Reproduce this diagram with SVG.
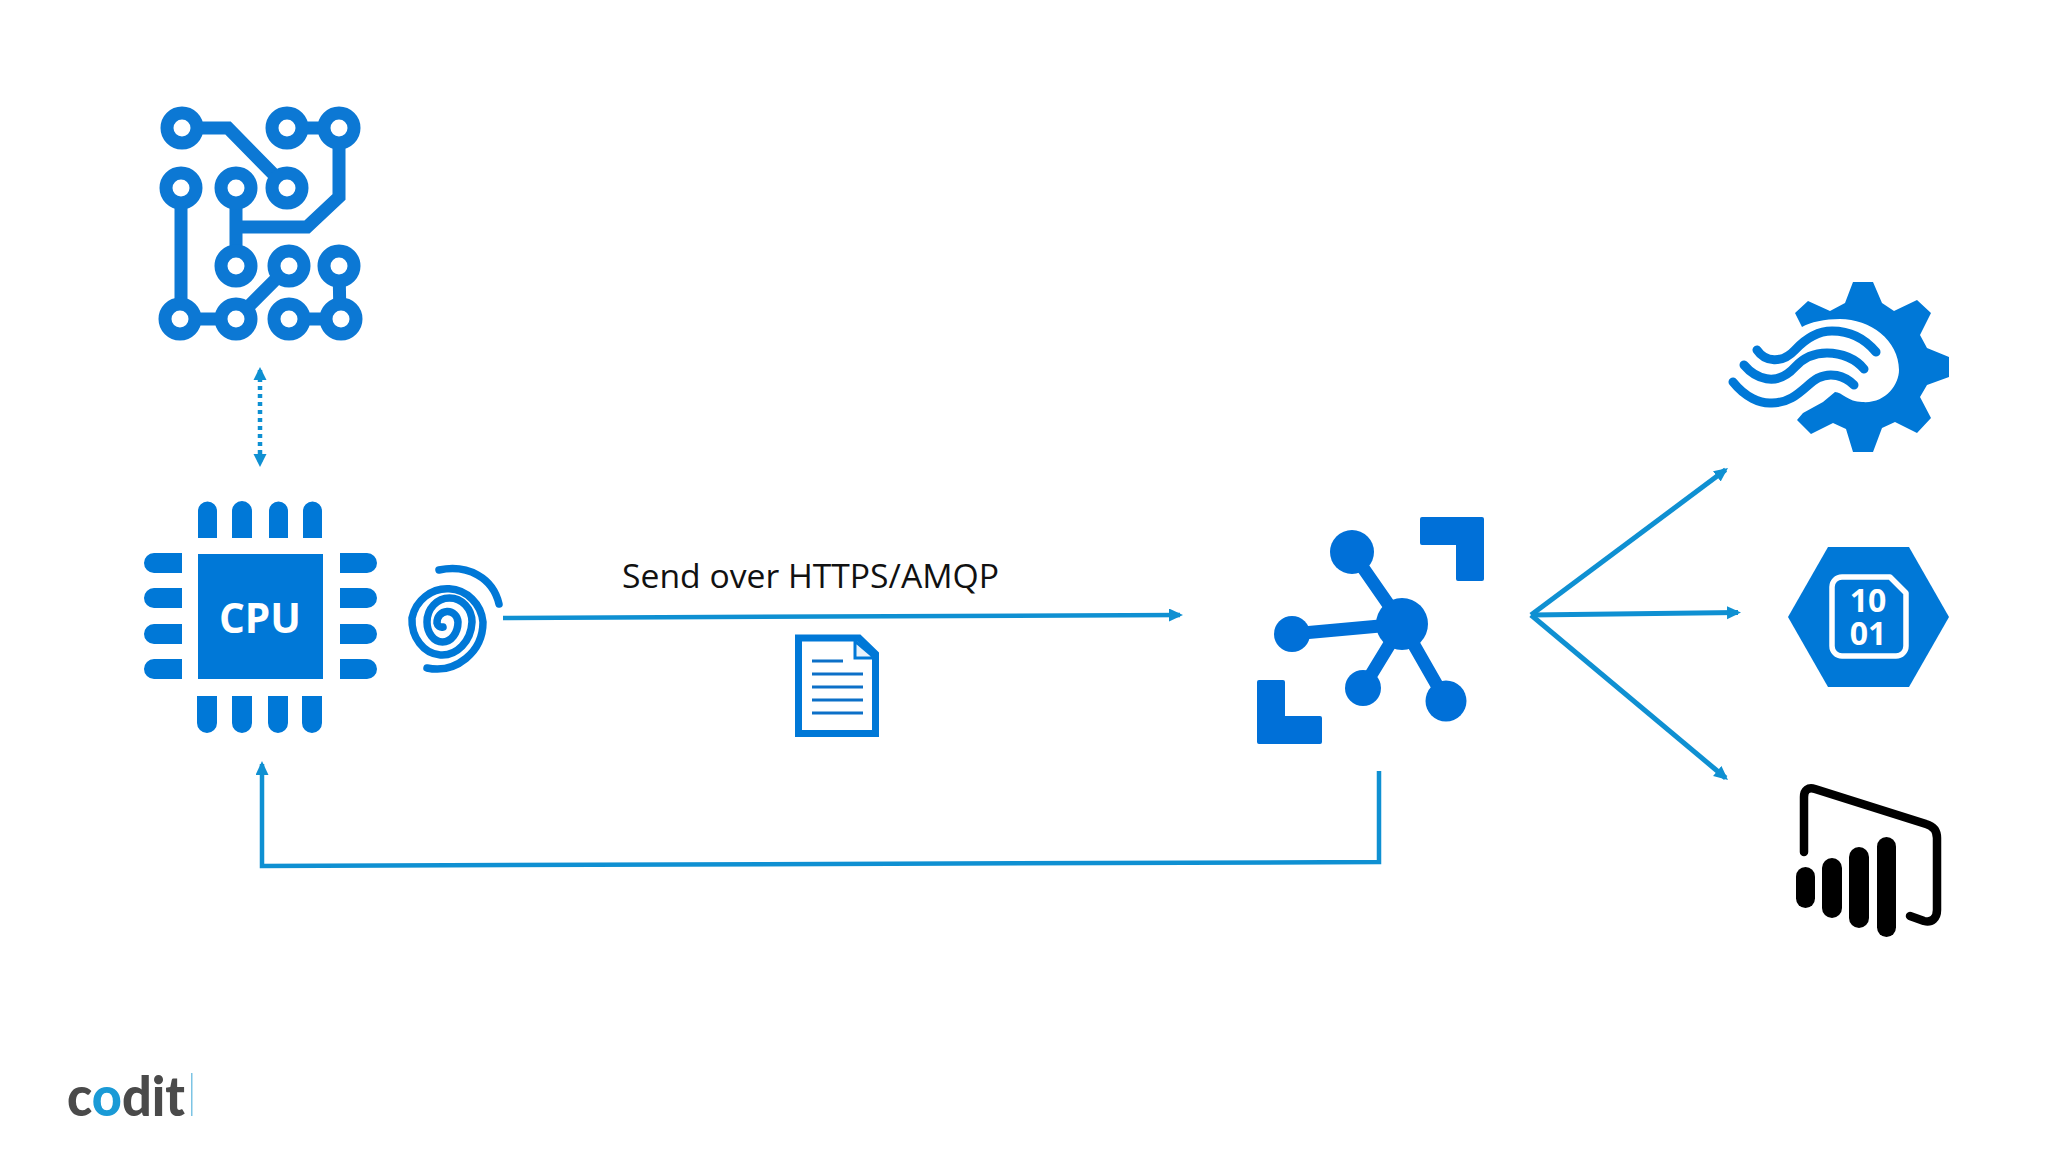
<svg xmlns="http://www.w3.org/2000/svg" width="2048" height="1152" viewBox="0 0 2048 1152">
<style>
.b{fill:#0078d7}
.ring{fill:#fff;stroke:#0c78d4;stroke-width:13}
.tr{fill:none;stroke:#0c78d4;stroke-width:13;stroke-linejoin:miter}
.c{fill:none;stroke:#0f90d2;stroke-width:4.500}
.f{fill:none;stroke:#0f90d2;stroke-width:5}
.sp{fill:none;stroke:#0078d7;stroke-width:7.500;stroke-linecap:round}
.w{fill:none;stroke:#0078d7;stroke-width:9;stroke-linecap:round}
.h{stroke:#0070d8;stroke-width:13}
.hf{fill:#0070d8}
.k{fill:none;stroke:#000;stroke-width:8.500;stroke-linecap:round;stroke-linejoin:round}
.l{stroke:#0c70c8;stroke-width:3}
text{font-family:"Open Sans","Liberation Sans",sans-serif}
</style>
<defs>
<marker id="a" markerUnits="userSpaceOnUse" markerWidth="15" markerHeight="14" refX="11" refY="6.500" orient="auto"><path d="M0 0L14 6.500L0 13Z" fill="#0f90d2"/></marker>
<marker id="d" markerUnits="userSpaceOnUse" markerWidth="15" markerHeight="14" refX="10" refY="6.500" orient="auto"><path d="M0 0L13 6.500L0 13Z" fill="#0f90d2"/></marker>
<marker id="ds" markerUnits="userSpaceOnUse" markerWidth="15" markerHeight="14" refX="3" refY="6.500" orient="auto"><path d="M13 0L0 6.500L13 13Z" fill="#0f90d2"/></marker>
</defs>
<rect width="2048" height="1152" fill="#fff"/>
<g id="connectors">
<path class="c" d="M260 370V464" stroke-dasharray="4 4" marker-start="url(#ds)" marker-end="url(#d)"/>
<path class="c" d="M503 618L1180 615" marker-end="url(#a)"/>
<path class="c" d="M1379 771V862L262 866V764" marker-end="url(#a)"/>
<path class="f" d="M1531 615L1725.600 469.800" marker-end="url(#a)"/>
<path class="f" d="M1531 615L1738 612.500" marker-end="url(#a)"/>
<path class="f" d="M1531 615L1725.700 778" marker-end="url(#a)"/>
</g>
<g id="circuit">
<path class="tr" d="M182 128H228L287 188M287 128H339V197L307 227H236M236 188V266M181 188V319H236L289 266M289 319H340L339 266"/>
<g>
<circle class="ring" cx="182" cy="128" r="15"/><circle class="ring" cx="287" cy="128" r="15"/><circle class="ring" cx="339" cy="128" r="15"/>
<circle class="ring" cx="181" cy="188" r="15"/><circle class="ring" cx="236" cy="188" r="15"/><circle class="ring" cx="287" cy="188" r="15"/>
<circle class="ring" cx="236" cy="266" r="15"/><circle class="ring" cx="289" cy="266" r="15"/><circle class="ring" cx="339" cy="266" r="15"/>
<circle class="ring" cx="180" cy="319" r="15"/><circle class="ring" cx="236" cy="319" r="15"/><circle class="ring" cx="289" cy="319" r="15"/><circle class="ring" cx="341" cy="319" r="15"/>
</g>
</g>
<g id="cpu">
<rect class="b" x="198" y="554" width="125" height="125"/>
<text x="260" y="633" font-size="42" font-weight="700" fill="#fff" text-anchor="middle" textLength="82" lengthAdjust="spacingAndGlyphs">CPU</text>
<g class="b">
<path d="M198 538V511a9.500 9.500 0 0 1 19 0V538ZM232 538V511a10 10 0 0 1 20 0V538ZM269 538V511a9.500 9.500 0 0 1 19 0V538ZM303 538V511a9.500 9.500 0 0 1 19 0V538Z"/>
<path d="M197 696V723a10 10 0 0 0 20 0V696ZM232 696V723a10 10 0 0 0 20 0V696ZM268 696V723a10 10 0 0 0 20 0V696ZM302 696V723a10 10 0 0 0 20 0V696Z"/>
<path d="M182 553H154a10 10 0 0 0 0 20H182ZM182 588H154a10 10 0 0 0 0 20H182ZM182 624H154a10 10 0 0 0 0 20H182ZM182 659H154a10 10 0 0 0 0 20H182Z"/>
<path d="M340 553H367a10 10 0 0 1 0 20H340ZM340 588H367a10 10 0 0 1 0 20H340ZM340 624H367a10 10 0 0 1 0 20H340ZM340 659H367a10 10 0 0 1 0 20H340Z"/>
</g>
</g>
<g id="fingerprint">
<path class="sp" d="M439 570C468 564 493 578 499 604"/>
<path class="sp" d="M427 668C456 674 483 652 483 622A36 37 0 0 0 412 618A30 35 0 0 0 472 622A22.500 24 0 0 0 427 622A15.500 20 0 0 0 458 622A10.500 11 0 0 0 437 623A5 5 0 0 0 443 627"/>
</g>
<g id="send-label">
<text x="622" y="588" font-size="32" fill="#111" textLength="377" lengthAdjust="spacingAndGlyphs">Send over HTTPS/AMQP</text>
</g>
<g id="document">
<path d="M798.500 638H859L875.500 654V733.500H798.500Z" fill="#fff" stroke="#0078d7" stroke-width="7"/>
<path d="M855 641V658H875Z" fill="#e8f2fb" stroke="#0078d7" stroke-width="3"/>
<path class="l" d="M812 661H843M812 674H863M812 687H863M812 700H863M812 713H863"/>
</g>
<g id="hub">
<path class="h" d="M1352 552L1402 624M1292 634L1402 624M1363 688L1402 624M1446 701L1402 624"/>
<circle class="hf" cx="1402" cy="624" r="26"/><circle class="hf" cx="1352" cy="552" r="22"/><circle class="hf" cx="1292" cy="634" r="18"/><circle class="hf" cx="1363" cy="688" r="18"/><circle class="hf" cx="1446" cy="701" r="20.500"/>
<path class="hf" d="M1422 517H1482a2 2 0 0 1 2 2V579a2 2 0 0 1-2 2H1458a2 2 0 0 1-2-2V545H1422a2 2 0 0 1-2-2V519a2 2 0 0 1 2-2Z"/>
<path class="hf" d="M1259 680H1283a2 2 0 0 1 2 2V716H1320a2 2 0 0 1 2 2V742a2 2 0 0 1-2 2H1259a2 2 0 0 1-2-2V682a2 2 0 0 1 2-2Z"/>
</g>
<g id="stream-analytics">
<path class="b" d="M1853 282L1873 282L1882 303L1894 311L1917 300L1931 313L1920 335L1927 348L1949 357L1949 377L1927 385L1920 397L1931 418L1917 433L1895 422L1882 428L1873 452L1853 452L1846 429L1833 423L1811 434L1797 420L1803 413L1823 402L1835 392C1842 392 1848 402 1862 402C1885 404 1899 385 1899 370C1899 340 1870 319 1840 319C1825 319 1810 322 1802 327L1795 313L1808 301L1830 311L1845 303Z"/>
<path class="w" d="M1757 350C1765 362 1782 364 1795 350C1808 336 1820 331 1832 331C1852 331 1866 340 1876 352"/>
<path class="w" d="M1744 365C1755 378 1776 388 1795 367C1806 355 1818 353 1827 353C1842 353 1856 359 1864 369"/>
<path class="w" d="M1733 382C1745 397 1760 404 1772 403C1795 403 1805 385 1818 378C1830 372 1844 375 1854 385"/>
</g>
<g id="storage">
<path class="b" d="M1828 547H1909L1949 617L1909 687H1828L1788 617Z"/>
<path d="M1842 577H1890L1906 593V646a10 10 0 0 1-10 10H1842a10 10 0 0 1-10-10V587a10 10 0 0 1 10-10Z" fill="none" stroke="#fff" stroke-width="5.500" stroke-linejoin="round"/>
<text x="1868" y="612" font-size="32" font-weight="700" fill="#fff" text-anchor="middle">10</text>
<text x="1868" y="645" font-size="32" font-weight="700" fill="#fff" text-anchor="middle">01</text>
</g>
<g id="powerbi">
<path class="k" d="M1804 852V797C1804 790 1808 787 1815 789L1926 824C1933 826 1937 831 1937 838V910C1937 918 1932 923 1924 921L1910 916"/>
<rect x="1796" y="867" width="19" height="41" rx="9.500"/>
<rect x="1822" y="858" width="20" height="60" rx="10"/>
<rect x="1849" y="847" width="20" height="81" rx="10"/>
<rect x="1877" y="837" width="19" height="100" rx="9.500"/>
</g>
<g id="logo">
<text x="67" y="1116" font-size="56" font-weight="900" fill="#4a4a4a" textLength="118" lengthAdjust="spacingAndGlyphs" style="font-family:Lato,'Liberation Sans',sans-serif">c<tspan fill="#1a9ad6">o</tspan>dit</text>
<rect x="191" y="1073" width="1.500" height="43" fill="#7cc4e4"/>
</g>
</svg>
